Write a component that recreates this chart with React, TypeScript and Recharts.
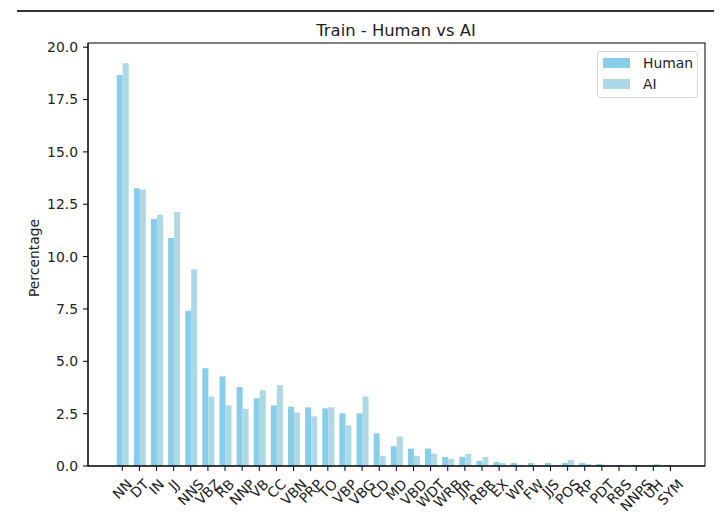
import React from "react";
import { Bar, BarChart, XAxis, YAxis } from "recharts";

const tags = [
  "NN", "DT", "IN", "JJ", "NNS", "VBZ", "RB", "NNP", "VB", "CC", "VBN",
  "PRP", "TO", "VBP", "VBG", "CD", "MD", "VBD", "WDT", "WRB", "JJR",
  "RBR", "EX", "WP", "FW", "JJS", "POS", "RP", "PDT", "RBS", "NNPS", "UH", "SYM",
];
const human = [
  18.67, 13.26, 11.8, 10.89, 7.41, 4.67, 4.28, 3.77, 3.23, 2.89, 2.83,
  2.8, 2.75, 2.51, 2.51, 1.56, 0.94, 0.83, 0.83, 0.43, 0.43,
  0.24, 0.19, 0.14, 0.14, 0.14, 0.14, 0.14, 0.1, 0.05, 0.05, 0.05, 0.04,
];
const ai = [
  19.23, 13.2, 12.0, 12.13, 9.4, 3.32, 2.89, 2.73, 3.62, 3.86, 2.55,
  2.37, 2.8, 1.94, 3.32, 0.49, 1.41, 0.49, 0.59, 0.33, 0.57,
  0.43, 0.14, 0.06, 0.05, 0.05, 0.29, 0.1, 0.05, 0.05, 0.05, 0.1, 0.02,
];
const yTicks = [0, 2.5, 5, 7.5, 10, 12.5, 15, 17.5, 20];

const data = tags.map((tag, i) => ({ tag, Human: human[i], AI: ai[i] }));

const FONT = "'DejaVu Sans', sans-serif";
const FS = 13.9;
const HUMAN_COLOR = "#87CEEB";
const AI_COLOR = "#ADD8E6";

// plot box: 88..705 x 43..466
const PLOT = { left: 88, top: 43, right: 705, bottom: 466 };

// rough DejaVu Sans glyph widths (em) for the capitals used in the tags
const charW: Record<string, number> = {
  N: 0.748, D: 0.77, T: 0.611, I: 0.295, J: 0.295, S: 0.635, V: 0.684,
  B: 0.686, Z: 0.685, R: 0.695, P: 0.603, C: 0.698, O: 0.787, G: 0.775,
  M: 0.863, W: 0.989, E: 0.632, X: 0.685, F: 0.575, H: 0.752, U: 0.732, Y: 0.611,
};

function AngledTick(props: any) {
  const { x, y, payload } = props;
  const label = String(payload.value);
  const w = label.split("").reduce((s, c) => s + (charW[c] ?? 0.65), 0) * FS;
  const h = FS * 1.164;
  const cy = y + (w + h) / (2 * Math.SQRT2);
  return (
    <text
      x={x}
      y={cy}
      transform={`rotate(-45 ${x} ${cy})`}
      textAnchor="middle"
      dominantBaseline="central"
      fontSize={FS}
      fontFamily={FONT}
      fill="#222"
    >
      {label}
    </text>
  );
}

function LegendBox() {
  const items = [
    { name: "Human", color: HUMAN_COLOR },
    { name: "AI", color: AI_COLOR },
  ];
  return (
    <div
      style={{
        position: "absolute",
        left: 597,
        top: 51,
        width: 101,
        height: 47,
        boxSizing: "border-box",
        border: "1px solid #d6d6d6",
        borderRadius: 3,
        background: "rgba(255,255,255,0.8)",
        fontFamily: FONT,
        fontSize: FS,
        color: "#222",
      }}
    >
      {items.map((it, i) => (
        <div key={it.name} style={{ position: "absolute", left: 5, top: 6 + i * 21, display: "flex", alignItems: "center" }}>
          <span style={{ display: "inline-block", width: 27, height: 10, background: it.color }} />
          <span style={{ marginLeft: 13, lineHeight: "10px" }}>{it.name}</span>
        </div>
      ))}
    </div>
  );
}

export default function App() {
  return (
    <div style={{ position: "absolute", left: 0, top: 0, width: 724, height: 525, background: "#fff" }}>
      <div style={{ position: "absolute", left: 17, top: 10, width: 697, height: 2, background: "#333" }} />
      <div style={{ position: "absolute", left: 0, top: 0 }}>
        <BarChart
          width={724}
          height={525}
          data={data}
          margin={{ top: PLOT.top, right: 724 - PLOT.right, bottom: 9, left: 28 }}
          barGap={0}
          barSize={6}
        >
          <XAxis
            dataKey="tag"
            interval={0}
            padding={{ left: 25.7, right: 26 }}
            height={525 - PLOT.bottom - 9}
            tickSize={5}
            tickMargin={5}
            tick={<AngledTick />}
            axisLine={{ stroke: "#000", strokeWidth: 1 }}
            tickLine={{ stroke: "#000" }}
          />
          <YAxis
            type="number"
            domain={[0, 20.2]}
            ticks={yTicks}
            tickFormatter={(v: number) => v.toFixed(1)}
            width={PLOT.left - 28}
            tickSize={5}
            tickMargin={5}
            tick={{ fontSize: FS, fontFamily: FONT, fill: "#222" }}
            axisLine={{ stroke: "#000", strokeWidth: 1 }}
            tickLine={{ stroke: "#000" }}
            allowDataOverflow
          />
          <Bar dataKey="Human" fill={HUMAN_COLOR} isAnimationActive={false} />
          <Bar dataKey="AI" fill={AI_COLOR} isAnimationActive={false} />
        </BarChart>
      </div>
      <svg style={{ position: "absolute", left: 0, top: 0, pointerEvents: "none" }} width={724} height={525}>
        <rect
          x={PLOT.left}
          y={PLOT.top}
          width={PLOT.right - PLOT.left}
          height={PLOT.bottom - PLOT.top}
          fill="none"
          stroke="#000"
          strokeWidth={1}
        />
        <text x={396} y={36} textAnchor="middle" fontSize={16.4} fontFamily={FONT} fill="#222">
          Train - Human vs AI
        </text>
        <text
          x={34}
          y={258}
          transform="rotate(-90 34 258)"
          textAnchor="middle"
          dominantBaseline="central"
          fontSize={FS}
          fontFamily={FONT}
          fill="#222"
        >
          Percentage
        </text>
      </svg>
      <LegendBox />
    </div>
  );
}
